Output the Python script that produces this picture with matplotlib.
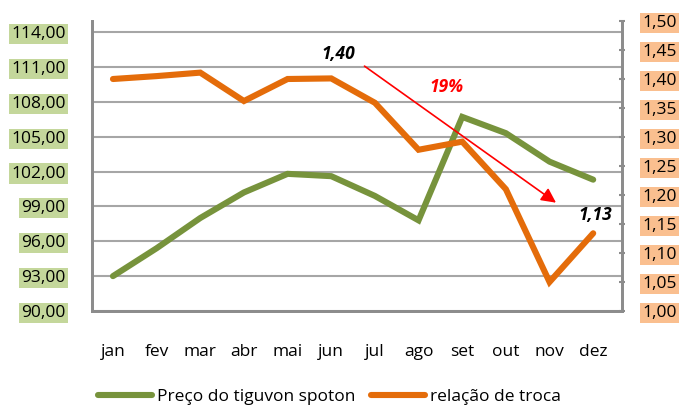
import matplotlib
matplotlib.use('Agg')
import matplotlib.pyplot as plt

plt.rcParams['font.family'] = ['Open Sans', 'DejaVu Sans']

meses = ['jan', 'fev', 'mar', 'abr', 'mai', 'jun', 'jul', 'ago', 'set', 'out', 'nov', 'dez']
preco = [93.0, 95.4, 98.0, 100.2, 101.8, 101.6, 99.9, 97.8, 106.7, 105.3, 102.85, 101.3]
relacao = [1.40, 1.405, 1.411, 1.362, 1.40, 1.401, 1.359, 1.278, 1.292, 1.21, 1.05, 1.134]
ticks_esq = [90, 93, 96, 99, 102, 105, 108, 111, 114]
ticks_dir = [1.00, 1.05, 1.10, 1.15, 1.20, 1.25, 1.30, 1.35, 1.40, 1.45, 1.50]

verde = '#77933c'
laranja = '#e46c0a'
cinza = '#8c8c8c'
fs = 12.5

fig = plt.figure(figsize=(6.83, 4.05), dpi=100)
ax = fig.add_axes([92 / 683, 1 - 311 / 405, 530 / 683, 290 / 405])
ax2 = ax.twinx()

x = list(range(len(meses)))
l1, = ax.plot(x, preco, color=verde, lw=4.4, solid_capstyle='round', solid_joinstyle='miter',
              label='Preço do tiguvon spoton')
l2, = ax2.plot(x, relacao, color=laranja, lw=4.4, solid_capstyle='round', solid_joinstyle='miter',
               label='relação de troca')

ax.set_xlim(-0.48, 11.66)
ax.set_ylim(90, 114.95)
ax2.set_ylim(1.00, 1.50)

# eixo esquerdo
ax.set_yticks(ticks_esq)
ax.set_yticklabels([f'{v:.2f}'.replace('.', ',') for v in ticks_esq], fontsize=fs)
ax.tick_params(axis='y', length=0, pad=19)
for t in ax.get_yticklabels():
    t.set_bbox(dict(facecolor='#c4d79b', edgecolor='none', pad=1.5))
ax.yaxis.grid(True, color='#a6a6a6', lw=1.5)
ax.set_axisbelow(True)

# eixo direito
ax2.set_yticks(ticks_dir)
ax2.set_yticklabels([f'{v:.2f}'.replace('.', ',') for v in ticks_dir], fontsize=fs)
ax2.tick_params(axis='y', length=5, width=1.5, color=cinza, direction='inout', pad=12)
for t in ax2.get_yticklabels():
    t.set_bbox(dict(facecolor='#fabf8f', edgecolor='none', pad=1.5))

# eixo x
ax.set_xticks(x)
ax.set_xticklabels(meses, fontsize=fs)
ax.tick_params(axis='x', length=0, pad=24)

for a in (ax, ax2):
    a.spines['top'].set_visible(False)
    for s in ['left', 'right', 'bottom']:
        a.spines[s].set_color(cinza)
        a.spines[s].set_linewidth(2)

# anotações
ax2.text(5.16, 1.443, '1,40', fontsize=fs, fontweight='bold', style='italic', ha='center', va='center')
ax2.text(11.05, 1.165, '1,13', fontsize=fs, fontweight='bold', style='italic', ha='center', va='center')
ax2.text(7.63, 1.386, '19%', fontsize=fs, fontweight='bold', style='italic', color='red',
         ha='center', va='center')
ax2.annotate('', xy=(10.2, 1.184), xytext=(5.71, 1.425),
             arrowprops=dict(arrowstyle='-|>', color='red', lw=1.2, mutation_scale=22))

fig.legend(handles=[l1, l2], loc='center left', bbox_to_anchor=(98 / 683, 8 / 405),
           ncol=2, frameon=False, fontsize=fs, handlelength=3.1, handletextpad=0.3,
           columnspacing=0.9, borderpad=0, borderaxespad=0)

fig.savefig('out.png', dpi=100)
